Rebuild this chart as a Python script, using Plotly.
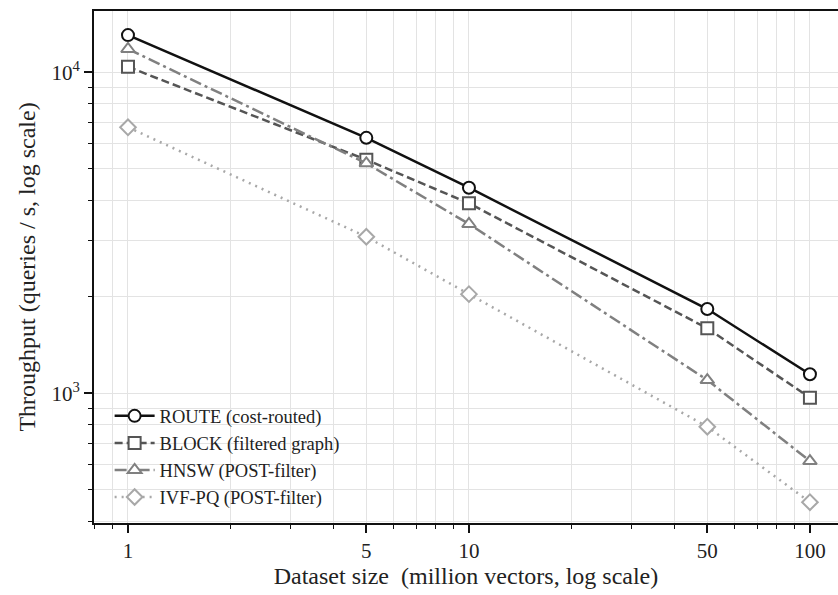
import plotly.graph_objects as go

sizes = [1, 5, 10, 50, 100]
route = [13060, 6250, 4370, 1830, 1146]
block = [10400, 5340, 3908, 1594, 969]
hnsw = [11820, 5205, 3369, 1100, 615]
ivfpq = [6740, 3074, 2037, 787, 458]

names = ["ROUTE (cost-routed)", "BLOCK (filtered graph)", "HNSW (POST-filter)", "IVF-PQ (POST-filter)"]
colors = ["#111111", "#555555", "#808080", "#a8a8a8"]
dashes = ["solid", "8px,4px", "12px,4px,3px,4px", "2px,5px"]
symbols = ["circle", "square", "triangle-up", "diamond"]
series = [route, block, hnsw, ivfpq]

x_major = [1, 5, 10, 50, 100]
x_minor = [0.8, 0.9, 2, 3, 4, 6, 7, 8, 9, 20, 30, 40, 60, 70, 80, 90]
y_major = [1000, 10000]
y_major_text = ["10<sup>3</sup>", "10<sup>4</sup>"]
y_minor = [400, 500, 600, 700, 800, 900, 2000, 3000, 4000, 5000, 6000, 7000, 8000, 9000]

fig = go.Figure()
for name, vals, c, d, s in zip(names, series, colors, dashes, symbols):
    fig.add_trace(go.Scatter(
        x=sizes, y=vals, name=name, mode="lines+markers",
        line=dict(color=c, width=2.5, dash=d),
        marker=dict(symbol=s, size=12, color="white", line=dict(color=c, width=2)),
    ))

font = "Liberation Serif, Times New Roman, serif"
fig.update_layout(
    width=838, height=595,
    margin=dict(l=94, r=0, t=11, b=72),
    paper_bgcolor="white", plot_bgcolor="white",
    font=dict(family=font, size=18, color="#222"),
    showlegend=True,
    legend=dict(x=0.021, y=0.013, xanchor="left", yanchor="bottom",
                bgcolor="rgba(255,255,255,0)", borderwidth=0,
                font=dict(size=18.5, family=font, color="#222"),
                tracegroupgap=0, itemwidth=40),
)
fig.update_xaxes(
    type="log", range=[-0.0997, 2.0823],
    tickmode="array", tickvals=x_major, ticktext=[str(v) for v in x_major],
    ticks="outside", ticklen=8, tickwidth=1.5, tickcolor="#111",
    showline=True, linecolor="#111", linewidth=2, mirror=True,
    showgrid=True, gridcolor="#e3e3e3", gridwidth=1,
    minor=dict(tickvals=x_minor, ticks="outside", ticklen=4, tickwidth=1, tickcolor="#111",
               showgrid=True, gridcolor="#e3e3e3", gridwidth=1),
    title=dict(text="Dataset size  (million vectors, log scale)", font=dict(size=24), standoff=5),
    tickfont=dict(size=21), zeroline=False,
)
fig.update_yaxes(
    type="log", range=[2.596, 4.191],
    tickmode="array", tickvals=y_major, ticktext=y_major_text,
    ticks="outside", ticklen=8, tickwidth=1.5, tickcolor="#111",
    showline=True, linecolor="#111", linewidth=2,
    showgrid=True, gridcolor="#e3e3e3", gridwidth=1,
    minor=dict(tickvals=y_minor, ticks="outside", ticklen=4, tickwidth=1, tickcolor="#111",
               showgrid=True, gridcolor="#e3e3e3", gridwidth=1),
    title=dict(text="Throughput (queries / s, log scale)", font=dict(size=24), standoff=9),
    tickfont=dict(size=21), zeroline=False,
)
fig.write_html("out.html")
